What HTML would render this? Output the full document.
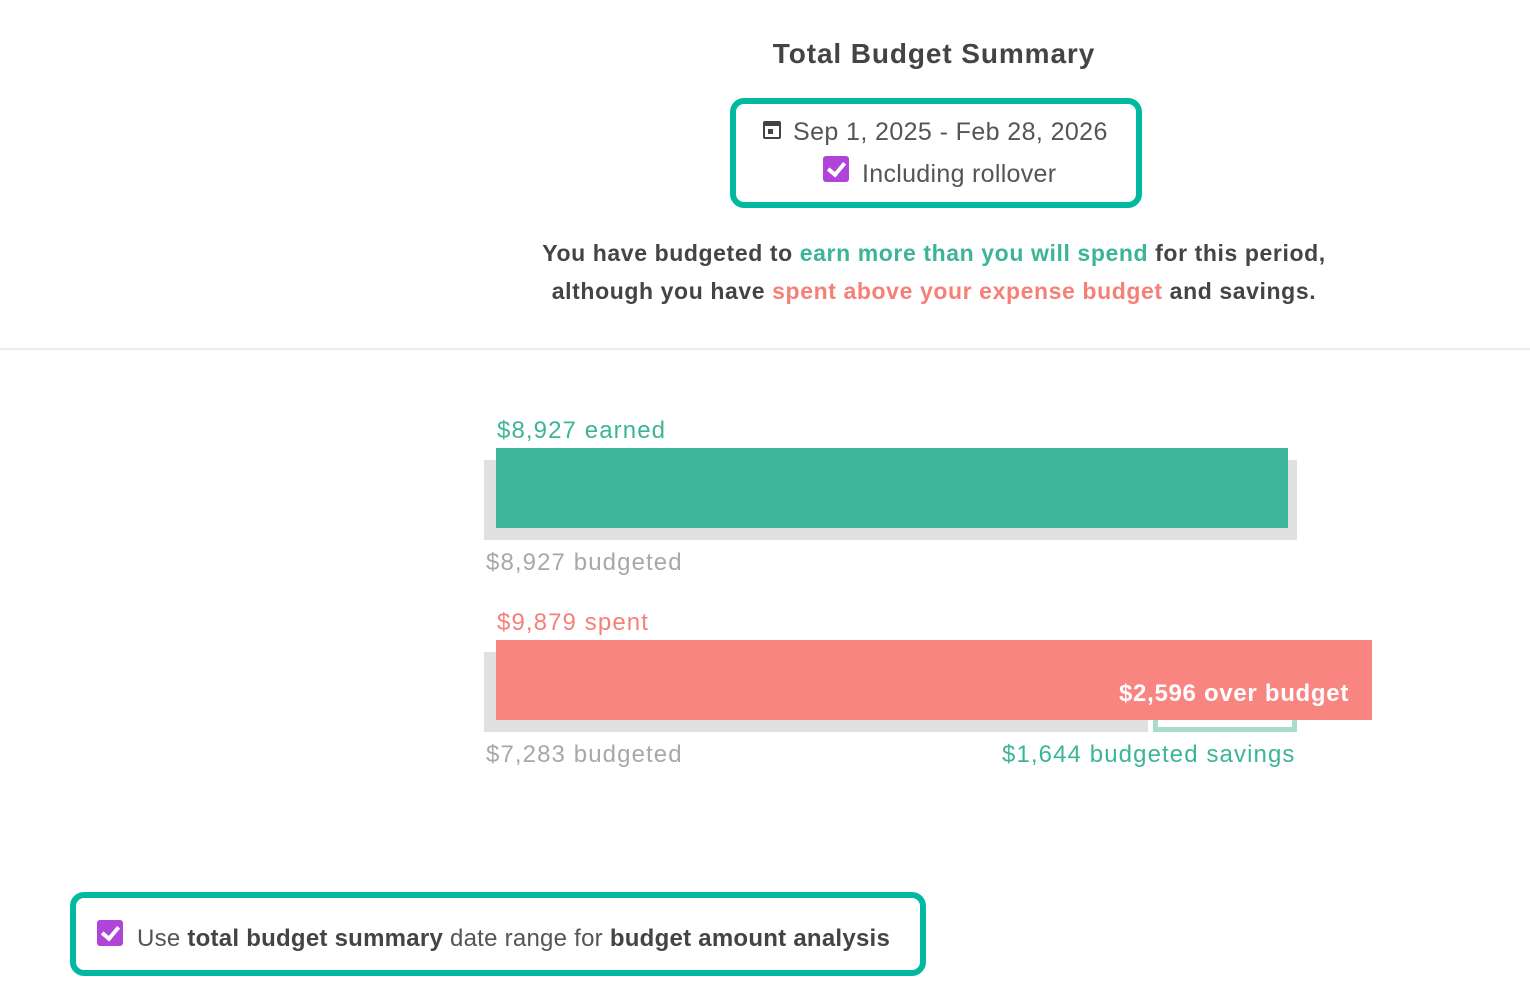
<!DOCTYPE html>
<html><head><style>
body{margin:0;width:1530px;height:1002px;background:#fff;font-family:"Liberation Sans",sans-serif;position:relative;overflow:hidden;color:#444}
.a{position:absolute;white-space:nowrap}
.cb{position:absolute;width:26px;height:26px;background:#b044d8;border-radius:3px}
.cb:after{content:"";position:absolute;left:8px;top:3px;width:7px;height:13px;border:solid #fff;border-width:0 4px 4px 0;transform:rotate(40deg)}
.l{font-size:24px;letter-spacing:1.1px}
</style></head><body>
<div class="a" style="left:0;width:1868px;top:38px;font-size:28px;text-align:center;color:#444;font-weight:bold;letter-spacing:0.9px">Total Budget Summary</div>
<div class="a" style="left:730px;top:98px;width:400px;height:98px;border:6px solid #00b9a0;border-radius:14px"></div>
<div class="a" style="left:763px;top:121px;width:18px;height:18px;border:2px solid #444;border-top-width:5px;box-sizing:border-box;border-radius:2px"><div style="position:absolute;left:3px;top:3px;width:5px;height:5px;background:#444"></div></div>
<div class="a" style="left:793px;top:118px;font-size:25px;color:#555;letter-spacing:0.4px">Sep 1, 2025 - Feb 28, 2026</div>
<div class="cb" style="left:823px;top:156px;width:26px;height:26px"></div>
<div class="a" style="left:862px;top:160px;font-size:25px;color:#555;letter-spacing:0.3px">Including rollover</div>
<div class="a" style="left:0;width:1868px;text-align:center;top:234px;font-size:23px;font-weight:bold;color:#444;line-height:38px;letter-spacing:0.6px">You have budgeted to <span style="color:#3db497">earn more than you will spend</span> for this period,<br>although you have <span style="color:#f58078">spent above your expense budget</span> and savings.</div>
<div class="a" style="left:0;top:348px;width:1530px;height:2px;background:#ececec"></div>
<div class="a l" style="left:497px;top:417px;color:#3db497">$8,927 earned</div>
<div class="a" style="left:484px;top:460px;width:813px;height:80px;background:#dfe0e1"></div>
<div class="a" style="left:496px;top:448px;width:792px;height:80px;background:#3fb59b"></div>
<div class="a l" style="left:486px;top:549px;color:#a8a8a8">$8,927 budgeted</div>
<div class="a l" style="left:497px;top:609px;color:#f58078">$9,879 spent</div>
<div class="a" style="left:484px;top:652px;width:664px;height:80px;background:#dfe0e1"></div>
<div class="a" style="left:1153px;top:652px;width:144px;height:80px;border:5px solid #a8dccb;box-sizing:border-box"></div>
<div class="a" style="left:496px;top:640px;width:876px;height:80px;background:#f98580"></div>
<div class="a" style="left:1119px;top:680px;font-size:24px;font-weight:bold;color:#fff;letter-spacing:0.7px">$2,596 over budget</div>
<div class="a l" style="left:486px;top:741px;color:#a8a8a8">$7,283 budgeted</div>
<div class="a l" style="left:1002px;top:741px;color:#3db497">$1,644 budgeted savings</div>
<div class="a" style="left:70px;top:892px;width:844px;height:72px;border:6px solid #00b9a0;border-radius:14px"></div>
<div class="cb" style="left:97px;top:920px"></div>
<div class="a" style="left:137px;top:925px;font-size:24px;color:#555;letter-spacing:0.25px">Use <b style="color:#444">total budget summary</b> date range for <b style="color:#444">budget amount analysis</b></div>
</body></html>
